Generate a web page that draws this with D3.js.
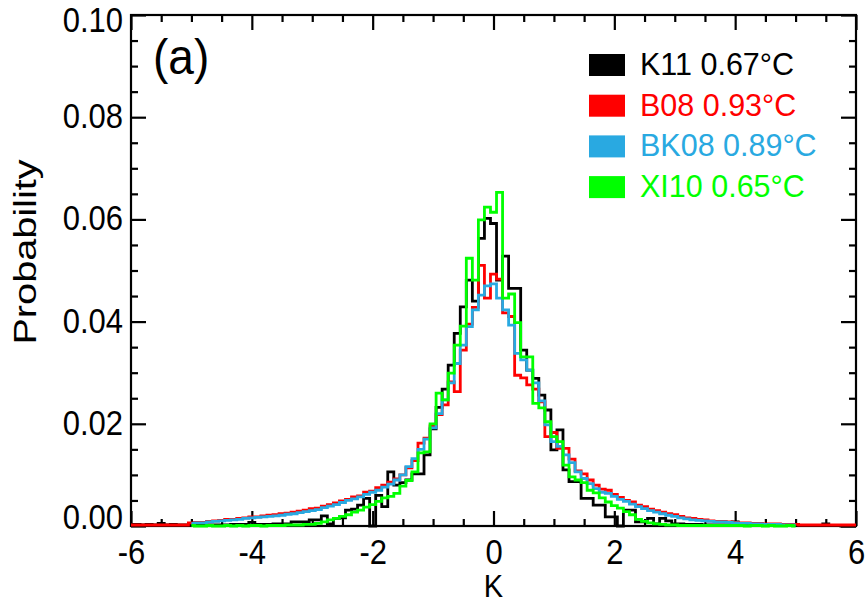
<!DOCTYPE html>
<html lang="en">
<head>
<meta charset="UTF-8" />
<title>Probability histogram</title>
<script src="https://d3js.org/d3.v7.js"></script>
<style>
  body { margin: 0; background: #fff; }
  svg { display: block; font-family: "Liberation Sans", Arial, sans-serif; }
</style>
</head>
<body>
<div id="dataviz"></div>
<script>
// bin centres are 0.1 K apart; each series lists values from its first bin
const binWidth = 0.1;

const k11Start = -6.0;
const k11 = [
  0.0003,0.0003,0.0002,0.0003,0.0002,0.0005,0.0002,0.0003,0.0002,0.0002,   // -6.0 .. -5.1
  0.0002,0.0002,0.0002,0.0002,0.0002,0.0002,0.0002,0.0003,0.0003,0.0003,   // -5.0 .. -4.1
  0.0007,0.0003,0.0003,0.0003,0.0004,0.0004,0.0004,0.0008,0.0008,0.0008,   // -4.0 .. -3.1
  0.0012,0.0012,0.0020,0.0004,0.0015,0.0016,0.0031,0.0033,0.0041,0.0054,   // -3.0 .. -2.1
  0.0000,0.0060,0.0038,0.0106,0.0080,0.0085,0.0090,0.0102,0.0102,0.0139,   // -2.0 .. -1.1
  0.0190,0.0232,0.0268,0.0315,0.0377,0.0429,0.0481,0.0440,0.0563,0.0602,   // -1.0 .. -0.1
  0.0592,0.0481,0.0528,0.0465,0.0465,0.0344,0.0305,0.0289,0.0256,0.0227,   //  0.0 .. 0.9
  0.0149,0.0188,0.0110,0.0087,0.0087,0.0054,0.0054,0.0041,0.0041,0.0018,   //  1.0 .. 1.9
  0.0018,0.0000,0.0031,0.0031,0.0008,0.0008,0.0015,0.0004,0.0015,0.0010,   //  2.0 .. 2.9
  0.0004,0.0004,0.0003,0.0003,0.0003,0.0002,0.0002,0.0002,0.0002,0.0002,   //  3.0 .. 3.9
  0.0008,0.0002,0.0002,0.0001,0.0002,0.0001,0.0001,0.0002,0.0001,0.0001,   //  4.0 .. 4.9
  0.0001,0.0001,0.0001,0.0001,0.0001,0.0004,0.0001,0.0001,0.0000,0.0000,   //  5.0 .. 5.9
  0.0000                                                                    //  6.0
];

const b08Start = -6.0;
const b08 = [
  0.0002,0.0002,0.0002,0.0002,0.0002,0.0002,0.0002,0.0002,0.0002,0.0002,
  0.0006,0.0007,0.0007,0.0009,0.0010,0.0011,0.0013,0.0013,0.0015,0.0016,
  0.0018,0.0018,0.0020,0.0021,0.0022,0.0024,0.0025,0.0027,0.0029,0.0031,
  0.0034,0.0035,0.0039,0.0042,0.0045,0.0049,0.0052,0.0057,0.0059,0.0066,
  0.0068,0.0075,0.0080,0.0086,0.0092,0.0100,0.0114,0.0128,0.0162,0.0172,
  0.0196,0.0218,0.0237,0.0282,0.0263,0.0344,0.0395,0.0428,0.0510,0.0446,
  0.0493,0.0483,0.0417,0.0410,0.0295,0.0290,0.0276,0.0268,0.0243,0.0175,
  0.0183,0.0152,0.0152,0.0131,0.0108,0.0102,0.0090,0.0080,0.0072,0.0070,
  0.0062,0.0056,0.0050,0.0047,0.0041,0.0038,0.0033,0.0030,0.0027,0.0024,
  0.0022,0.0019,0.0016,0.0015,0.0013,0.0012,0.0010,0.0009,0.0009,0.0008,
  0.0007,0.0006,0.0006,0.0005,0.0005,0.0004,0.0004,0.0004,0.0003,0.0003,
  0.0003,0.0002,0.0002,0.0002,0.0002,0.0002,0.0002,0.0002,0.0002,0.0002,
  0.0002
];

const bk08Start = -5.0;
const bk08 = [
  0.0005,0.0006,0.0006,0.0008,0.0009,0.0010,0.0011,0.0012,0.0013,0.0015,   // -5.0 .. -4.1
  0.0016,0.0017,0.0018,0.0019,0.0020,0.0021,0.0023,0.0024,0.0026,0.0028,
  0.0030,0.0032,0.0036,0.0039,0.0042,0.0046,0.0050,0.0053,0.0057,0.0062,
  0.0066,0.0070,0.0076,0.0082,0.0090,0.0100,0.0116,0.0132,0.0150,0.0170,
  0.0192,0.0220,0.0247,0.0280,0.0318,0.0354,0.0390,0.0423,0.0452,0.0470,
  0.0474,0.0446,0.0423,0.0393,0.0338,0.0325,0.0305,0.0280,0.0245,0.0198,   //  0.0 .. 0.9
  0.0165,0.0156,0.0139,0.0124,0.0106,0.0093,0.0083,0.0073,0.0066,0.0064,
  0.0058,0.0052,0.0048,0.0043,0.0038,0.0034,0.0030,0.0027,0.0024,0.0021,
  0.0019,0.0016,0.0014,0.0012,0.0011,0.0010,0.0009,0.0008,0.0008,0.0007,
  0.0006,0.0005,0.0005,0.0004,0.0004,0.0003,0.0003,0.0003,0.0002,0.0002,
  0.0002                                                                    //  5.0
];

const xi10Start = -5.0;
const xi10 = [
  0.0001,0.0000,0.0000,0.0001,0.0000,0.0000,0.0001,0.0000,0.0001,0.0000,   // -5.0 .. -4.1
  0.0001,0.0001,0.0000,0.0001,0.0001,0.0001,0.0002,0.0002,0.0002,0.0003,   // -4.0 .. -3.1
  0.0003,0.0005,0.0008,0.0012,0.0015,0.0019,0.0022,0.0027,0.0031,0.0037,   // -3.0 .. -2.1
  0.0042,0.0048,0.0055,0.0058,0.0064,0.0078,0.0089,0.0106,0.0143,0.0145,   // -2.0 .. -1.1
  0.0200,0.0260,0.0247,0.0299,0.0354,0.0391,0.0524,0.0481,0.0599,0.0624,   // -1.0 .. -0.1
  0.0614,0.0653,0.0446,0.0454,0.0398,0.0331,0.0331,0.0240,0.0231,0.0204,   //  0.0 .. 0.9
  0.0175,0.0165,0.0119,0.0096,0.0090,0.0085,0.0070,0.0065,0.0055,0.0047,   //  1.0 .. 1.9
  0.0040,0.0035,0.0028,0.0022,0.0013,0.0009,0.0006,0.0004,0.0003,0.0002,   //  2.0 .. 2.9
  0.0002,0.0001,0.0001,0.0001,0.0001,0.0001,0.0001,0.0001,0.0001,0.0001,   //  3.0 .. 3.9
  0.0001,0.0001,0.0000,0.0001,0.0001,0.0000,0.0001,0.0000,0.0000,0.0001,   //  4.0 .. 4.9
  0.0000                                                                    //  5.0
];

const seriesNames = ["K11 0.67°C", "B08 0.93°C", "BK08 0.89°C", "XI10 0.65°C"];
const seriesColors = ["#000000", "#ff0000", "#29a9e1", "#00ff00"];
const seriesStarts = [k11Start, b08Start, bk08Start, xi10Start];
const seriesValues = [k11, b08, bk08, xi10];

const xMajor = [-6, -4, -2, 0, 2, 4, 6];
const yMajor = [0, 0.02, 0.04, 0.06, 0.08, 0.10];

const W = 867, H = 601;
const margin = {top: 15, right: 11, bottom: 75, left: 131};
const width = W - margin.left - margin.right,
      height = H - margin.top - margin.bottom;

// the original picture is a bit stretched vertically, text too
const stretch = 1.13;

const svg = d3.select("#dataviz")
  .append("svg")
  .attr("width", W)
  .attr("height", H)
  .append("g")
  .attr("transform", `translate(${margin.left},${margin.top})`);

const x = d3.scaleLinear().domain([-6, 6]).range([0, width]);
const y = d3.scaleLinear().domain([0, 0.10]).range([height, 0]);

const xMinor = d3.range(-6, 6.01, 0.5).filter(v => !xMajor.includes(v));
const yMinor = d3.range(0, 0.1001, 0.005).filter(v => Math.abs(v / 0.02 - Math.round(v / 0.02)) > 1e-6);

function styleAxis(g) {
  g.select(".domain").remove();
  g.selectAll(".tick line").attr("stroke", "#000").attr("stroke-width", 2.2);
  g.selectAll(".tick text").attr("fill", "#000").attr("font-size", 31);
}

// bottom
svg.append("g").attr("transform", `translate(0,${height})`)
  .call(d3.axisBottom(x).tickValues(xMajor).tickSize(-15).tickPadding(12).tickFormat(d => String(d)))
  .call(styleAxis)
  .call(g => g.selectAll(".tick text").attr("transform", `scale(1,${stretch})`));
svg.append("g").attr("transform", `translate(0,${height})`)
  .call(d3.axisBottom(x).tickValues(xMinor).tickSize(-7).tickFormat(""))
  .call(styleAxis);
// top
svg.append("g")
  .call(d3.axisTop(x).tickValues(xMajor).tickSize(-15).tickFormat(""))
  .call(styleAxis);
svg.append("g")
  .call(d3.axisTop(x).tickValues(xMinor).tickSize(-7).tickFormat(""))
  .call(styleAxis);
// left: end labels sit inside the frame height like the original
svg.append("g")
  .call(d3.axisLeft(y).tickValues(yMajor).tickSize(-15).tickPadding(8).tickFormat(d3.format(".2f")))
  .call(styleAxis)
  .call(g => g.selectAll(".tick text")
    .attr("transform", `scale(1,${stretch})`)
    .attr("dy", d => d === 0.10 ? "0.47em" : d === 0 ? "0.08em" : "0.3em"));
svg.append("g")
  .call(d3.axisLeft(y).tickValues(yMinor).tickSize(-7).tickFormat(""))
  .call(styleAxis);
// right
svg.append("g").attr("transform", `translate(${width},0)`)
  .call(d3.axisRight(y).tickValues(yMajor).tickSize(-15).tickFormat(""))
  .call(styleAxis);
svg.append("g").attr("transform", `translate(${width},0)`)
  .call(d3.axisRight(y).tickValues(yMinor).tickSize(-7).tickFormat(""))
  .call(styleAxis);

svg.append("rect")
  .attr("width", width).attr("height", height)
  .attr("fill", "none").attr("stroke", "#000").attr("stroke-width", 2.2);

svg.append("defs").append("clipPath").attr("id", "plotclip")
  .append("rect").attr("x", -2).attr("y", 0).attr("width", width + 4).attr("height", height + 2);

const line = d3.line()
  .x(d => x(d[0]))
  .y(d => y(d[1]))
  .curve(d3.curveStep);

seriesValues.forEach((vals, i) => {
  const pts = vals.map((v, j) => [seriesStarts[i] + j * binWidth, v]);
  svg.append("path")
    .datum(pts)
    .attr("clip-path", "url(#plotclip)")
    .attr("fill", "none")
    .attr("stroke", seriesColors[i])
    .attr("stroke-width", 2.8)
    .attr("d", line);
});

// axis titles
svg.append("text")
  .attr("transform", `translate(${width / 2},${597 - margin.top}) scale(1,1.05)`)
  .attr("text-anchor", "middle").attr("font-size", 29)
  .text("K");
svg.append("text")
  .attr("transform", `translate(${36 - margin.left},${252 - margin.top}) rotate(-90) scale(1.28,1)`)
  .attr("text-anchor", "middle").attr("font-size", 31)
  .text("Probability");

// panel label
svg.append("text")
  .attr("transform", `translate(22,${74 - margin.top}) scale(1,1.08)`)
  .attr("font-size", 46)
  .text("(a)");

// legend
const legend = svg.append("g").attr("transform", `translate(${589 - margin.left},${54 - margin.top})`);
seriesNames.forEach((name, i) => {
  const row = legend.append("g").attr("transform", `translate(0,${i * 40.7})`);
  row.append("rect").attr("width", 36).attr("height", 22).attr("fill", seriesColors[i]);
  row.append("text")
    .attr("transform", `translate(51,21) scale(1,1.05)`)
    .attr("font-size", 30.5)
    .attr("fill", seriesColors[i])
    .text(name);
});
</script>
</body>
</html>
